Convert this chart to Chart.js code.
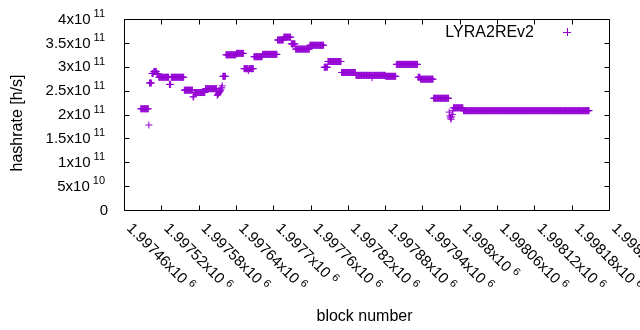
<!DOCTYPE html>
<html><head><meta charset="utf-8">
<script src="https://cdn.jsdelivr.net/npm/chart.js@4.4.0/dist/chart.umd.min.js"></script>
<style>html,body{margin:0;padding:0;background:#fff}#wrap{width:640px;height:330px}</style>
</head><body><div id="wrap"><canvas id="c" width="640" height="330"></canvas></div>
<script>
// ---- data ----
const seriesName = 'LYRA2REv2';
const xTitle = 'block number';
const yTitle = 'hashrate [h/s]';
// runs of consecutive blocks that share one hashrate value
const runFirst = [1997487,1997500,1997501,1997505,1997508,1997513,1997516,1997533,1997536,1997557,1997571,1997573,1997591,
  1997610,1997611,1997612,1997613,1997614,1997615,1997616,1997617,1997618,
  1997619,1997624,1997641,1997653,1997660,1997661,1997669,1997683,1997707,1997717,1997729,1997736,1997759,1997782,1997788,
  1997810,1997833,1997859,1997860,1997881,1997898,1997933,1997937,1997958,
  1997983,1997984,1997985,1997986,1997987,1997988,1997989,1997990,1998006];
const runLast = [1997499,1997500,1997504,1997507,1997512,1997515,1997532,1997535,1997556,1997570,1997572,1997590,1997609,
  1997610,1997611,1997612,1997613,1997614,1997615,1997616,1997617,1997618,
  1997623,1997640,1997652,1997659,1997660,1997668,1997682,1997706,1997716,1997728,1997735,1997758,1997781,1997787,1997809,
  1997832,1997858,1997859,1997880,1997897,1997932,1997936,1997957,1997982,
  1997983,1997984,1997985,1997986,1997987,1997988,1997989,1998005,1998208];
const runValue = [2.12e11,1.78e11,2.66e11,2.86e11,2.90e11,2.85e11,2.78e11,2.63e11,2.78e11,2.51e11,2.37e11,2.46e11,2.54e11,
  2.40e11,2.42e11,2.44e11,2.46e11,2.48e11,2.50e11,2.53e11,2.56e11,2.60e11,
  2.80e11,3.25e11,3.28e11,2.96e11,2.92e11,2.96e11,3.21e11,3.26e11,3.56e11,3.62e11,3.48e11,3.37e11,3.45e11,2.99e11,3.11e11,
  2.88e11,2.82e11,2.77e11,2.82e11,2.80e11,3.05e11,2.78e11,2.74e11,2.34e11,
  2.05e11,1.97e11,1.93e11,1.90e11,1.95e11,2.00e11,2.08e11,2.14e11,2.08e11];
const xTicks = [1997460,1997520,1997580,1997640,1997700,1997760,1997820,1997880,1997940,1998000,1998060,1998120,1998180,1998240];
const xTickMantissa = ['1.99746','1.99752','1.99758','1.99764','1.9977','1.99776','1.99782','1.99788','1.99794','1.998','1.99806','1.99812','1.99818','1.99824'];
const xTickExp = '6';
const yTicks = [0,5e10,1e11,1.5e11,2e11,2.5e11,3e11,3.5e11,4e11];
const yTickMantissa = ['0','5','1','1.5','2','2.5','3','3.5','4'];
const yTickExp = ['','10','11','11','11','11','11','11','11'];

// ---- expand runs to one point per block ----
const points = [];
for (let i = 0; i < runFirst.length; i++) {
  for (let b = runFirst[i]; b <= runLast[i]; b++) points.push({x: b, y: runValue[i]});
}

const COLOR = '#9400d3';
const FONT = '"Liberation Sans", Arial, sans-serif';
const FS = 15, FSE = 11, FST = 16;

const gnuplotLook = {
  id: 'gnuplotLook',
  afterDraw(chart) {
    const ctx = chart.ctx, a = chart.chartArea;
    const xs = chart.scales.x, ys = chart.scales.y;
    const L = Math.round(a.left) + 0.5, R = Math.round(a.right) + 0.5;
    const T = Math.round(a.top) + 0.5, B = Math.round(a.bottom) + 0.5;
    ctx.save();
    ctx.strokeStyle = '#000'; ctx.lineWidth = 1;
    ctx.beginPath();
    ctx.rect(L, T, R - L, B - T);
    const tl = 5;
    xTicks.forEach(v => {
      const p = Math.round(xs.getPixelForValue(v)) + 0.5;
      ctx.moveTo(p, B); ctx.lineTo(p, B - tl);
      ctx.moveTo(p, T); ctx.lineTo(p, T + tl);
    });
    yTicks.forEach(v => {
      const p = Math.round(ys.getPixelForValue(v)) + 0.5;
      ctx.moveTo(L, p); ctx.lineTo(L + tl, p);
      ctx.moveTo(R, p); ctx.lineTo(R - tl, p);
    });
    ctx.stroke();

    ctx.fillStyle = '#000';
    // y tick labels
    yTicks.forEach((v, i) => {
      const p = ys.getPixelForValue(v);
      ctx.textBaseline = 'middle';
      ctx.textAlign = 'right';
      if (yTickExp[i]) {
        ctx.font = FSE + 'px ' + FONT;
        const ew = ctx.measureText(yTickExp[i]).width;
        ctx.fillText(yTickExp[i], 105, p - 5);
        ctx.font = FS + 'px ' + FONT;
        ctx.fillText(yTickMantissa[i] + 'x10', 105 - ew - 3, p + 0.5);
      } else {
        ctx.font = FS + 'px ' + FONT;
        ctx.fillText(yTickMantissa[i], 108, p + 0.5);
      }
    });
    // x tick labels, rotated by -45 (clockwise)
    xTicks.forEach((v, i) => {
      const p = xs.getPixelForValue(v);
      ctx.save();
      ctx.translate(p + 2, a.bottom + 19);
      ctx.rotate(Math.PI / 4);
      ctx.textAlign = 'left'; ctx.textBaseline = 'alphabetic';
      ctx.font = FS + 'px ' + FONT;
      const txt = xTickMantissa[i] + 'x10 ';
      ctx.fillText(txt, 0, 0);
      const w = ctx.measureText(txt).width;
      ctx.font = FSE + 'px ' + FONT;
      ctx.fillText(xTickExp, w, -5);
      ctx.restore();
    });
    // axis titles
    ctx.font = FST + 'px ' + FONT;
    ctx.textAlign = 'center'; ctx.textBaseline = 'alphabetic';
    ctx.fillText(xTitle, (a.left + a.right) / 2 - 2, 321);
    ctx.save();
    ctx.translate(22, 123);
    ctx.rotate(-Math.PI / 2);
    ctx.fillText(yTitle, 0, 0);
    ctx.restore();
    // key
    ctx.font = FST + 'px ' + FONT;
    ctx.textAlign = 'right'; ctx.textBaseline = 'middle';
    ctx.fillText(seriesName, 534, 33);
    ctx.strokeStyle = COLOR;
    ctx.beginPath();
    ctx.moveTo(563, 32.5); ctx.lineTo(571, 32.5);
    ctx.moveTo(567.5, 28); ctx.lineTo(567.5, 36);
    ctx.stroke();
    ctx.restore();
  }
};

new Chart(document.getElementById('c'), {
  type: 'scatter',
  data: { datasets: [{
    label: seriesName, data: points,
    pointStyle: 'cross', pointRadius: 3.5, pointHoverRadius: 3.5,
    pointBorderWidth: 1, borderColor: COLOR, backgroundColor: COLOR, showLine: false
  }]},
  options: {
    responsive: false, animation: false, events: [],
    layout: { padding: { left: 124, right: 31, top: 19, bottom: 120 } },
    plugins: { legend: { display: false }, tooltip: { enabled: false } },
    scales: {
      x: { type: 'linear', min: 1997460, max: 1998240,
           ticks: { display: false }, grid: { display: false }, border: { display: false },
           afterFit(s) { s.height = 0; } },
      y: { type: 'linear', min: 0, max: 4e11,
           ticks: { display: false }, grid: { display: false }, border: { display: false },
           afterFit(s) { s.width = 0; } }
    }
  },
  plugins: [gnuplotLook]
});
</script>
</body></html>
